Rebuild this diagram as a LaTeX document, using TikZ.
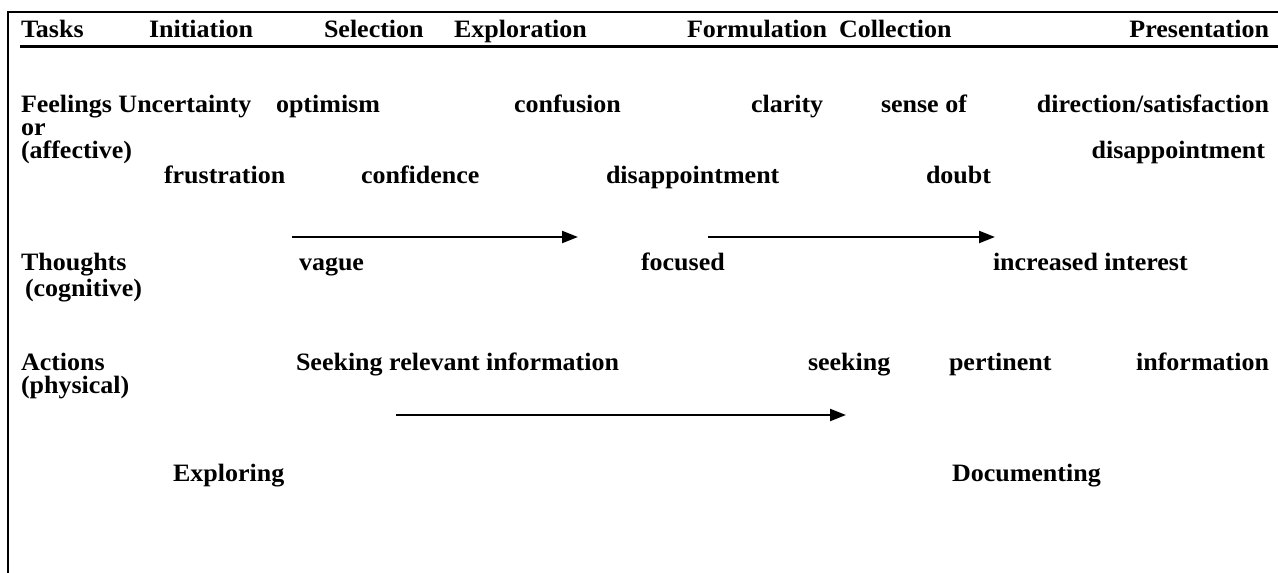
\documentclass[tikz,border=0pt]{standalone}
\usepackage{fontspec}
\setmainfont{Liberation Serif}[FakeStretch=1.04]
\usepackage{tikz}
\usetikzlibrary{arrows.meta,positioning}

\begin{document}
\begin{tikzpicture}
[x=1pt,y=-1pt,line width=2pt,
  word/.style={anchor=base west,inner sep=0pt,font=\bfseries\fontsize{25}{29}\selectfont},
  flow/.style={-{Triangle[length=16pt,width=12pt]},line width=2.2pt}]

  \useasboundingbox (0,0) rectangle (1278,573);

  % frame
  \draw (8,573) -- (8,12) -- (1278,12);

  % tasks
  \node[word] (tasks) at 		(20,37) 	{Tasks};
  \node[word] (initiation) at 		(148,37) 	{Initiation};
  \node[word] (selection) at 		(323,37) 	{Selection};
  \node[word] (exploration) at 		(453,37) 	{Exploration};
  \node[word] (formulation) at 		(686,37) 	{Formulation};
  \node[word] (collection) at 		(838,37) 	{Collection};
  \node[word,anchor=base east] (presentation) at (1270,37) {Presentation};
  \draw[line width=3pt] (20,46) -- (1278,46);

  % feelings
  \node[word] (feelings) at 		(20,112) 	{Feelings Uncertainty};
  \node[word] (optimism) at 		(275,112) 	{optimism};
  \node[word] (confusion) at 		(513,112) 	{confusion};
  \node[word] (clarity) at 		(750,112) 	{clarity};
  \node[word] (senseof) at 		(880,112) 	{sense of};
  \node[word,anchor=base east] (direction) at (1270,112) {direction/satisfaction};
  \node[word] (or) at 			(20,135) 	{or};
  \node[word] (affective) at 		(20,158) 	{(affective)};
  \node[word,anchor=base east] (disappointA) at (1266,158) {disappointment};
  \node[word] (frustration) at 		(163,183) 	{frustration};
  \node[word] (confidence) at 		(360,183) 	{confidence};
  \node[word] (disappointB) at 		(605,183) 	{disappointment};
  \node[word] (doubt) at 		(925,183) 	{doubt};

  % thoughts
  \coordinate (vaguestart) at 		(292,237);
  \coordinate (vagueend) at 		(578,237);
  \coordinate (focusstart) at 		(708,237);
  \coordinate (focusend) at 		(995,237);
  \node[word] (thoughts) at 		(20,270) 	{Thoughts};
  \node[word] (vague) at 		(298,270) 	{vague};
  \node[word] (focused) at 		(640,270) 	{focused};
  \node[word] (interest) at 		(992,270) 	{increased interest};
  \node[word] (cognitive) at 		(24,296) 	{(cognitive)};

  % actions
  \node[word] (actions) at 		(20,370) 	{Actions};
  \node[word] (relevant) at 		(295,370) 	{Seeking relevant information};
  \node[word] (seeking) at 		(807,370) 	{seeking};
  \node[word] (pertinent) at 		(948,370) 	{pertinent};
  \node[word,anchor=base east] (information) at (1270,370) {information};
  \node[word] (physical) at 		(20,393) 	{(physical)};
  \coordinate (actstart) at 		(396,415);
  \coordinate (actend) at 		(846,415);
  \node[word] (exploring) at 		(172,481) 	{Exploring};
  \node[word] (documenting) at 		(951,481) 	{Documenting};

  \foreach \from/\to in {vaguestart/vagueend,focusstart/focusend,actstart/actend}
    \draw[flow] (\from) -- (\to);

\end{tikzpicture}
\end{document}
